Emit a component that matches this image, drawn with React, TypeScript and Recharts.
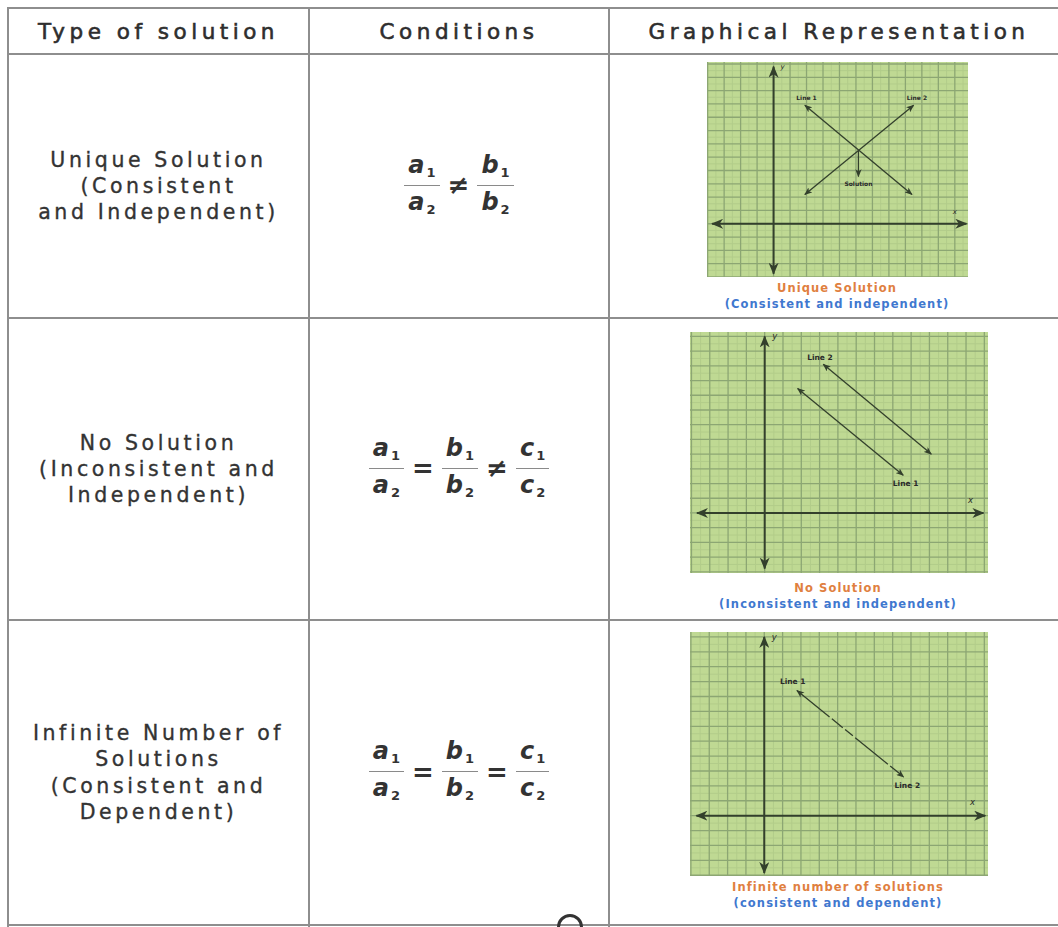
import React from 'react';
import { LineChart, Line, XAxis, YAxis, ReferenceLine, ReferenceDot } from 'recharts';

const FONT = '"DejaVu Sans", "Open Sans", sans-serif';
const BORDER = '#8e8e8e';
const GREEN = '#bfd993';
const MAJOR = '#8ca673';
const MINOR = '#b2cc8a';
const INK = '#33402c';

const HEADERS = ['Type of solution', 'Conditions', 'Graphical Representation'];

const ROW_TYPES = [
  ['Unique Solution', '(Consistent', 'and Independent)'],
  ['No Solution', '(Inconsistent and', 'Independent)'],
  ['Infinite Number of', 'Solutions', '(Consistent and', 'Dependent)'],
];

// letters of each ratio and the sign between them
const ROW_RATIOS = [['a', 'b'], ['a', 'b', 'c'], ['a', 'b', 'c']];
const ROW_SIGNS = [['≠'], ['=', '≠'], ['=', '=']];

const CAPTION_TOP = ['Unique Solution', 'No Solution', 'Infinite number of solutions'];
const CAPTION_BOTTOM = ['(Consistent and independent)', '(Inconsistent and independent)', '(consistent and dependent)'];

const GRID_MAJOR = [-4, -3, -2, -1, 0, 1, 2, 3, 4, 5, 6, 7, 8, 9, 10, 11, 12];
const GRID_MINOR = [-3.5, -2.5, -1.5, -0.5, 0.5, 1.5, 2.5, 3.5, 4.5, 5.5, 6.5, 7.5, 8.5, 9.5, 10.5, 11.5, 12.5];

// graph 1 - unique solution
const G1_Y_AXIS = [{ x: 0, y: -3.76 }, { x: 0, y: 11.8 }];
const G1_X_AXIS = [{ x: -3.73, y: 0 }, { x: 11.7, y: 0 }];
const G1_LINE1 = [{ x: 1.9, y: 8.9 }, { x: 8.4, y: 2.2 }];
const G1_LINE2 = [{ x: 1.9, y: 2.2 }, { x: 8.5, y: 8.9 }];
const G1_SOLUTION = [{ x: 5.15, y: 5.5 }, { x: 5.15, y: 3.55 }];
const G1_LABELS = [
  { x: 2.0, y: 9.45, text: 'Line 1' },
  { x: 8.7, y: 9.45, text: 'Line 2' },
  { x: 5.15, y: 3.0, text: 'Solution' },
];

// graph 2 - no solution
const G2_Y_AXIS = [{ x: 0, y: -3.78 }, { x: 0, y: 12.0 }];
const G2_X_AXIS = [{ x: -3.7, y: 0 }, { x: 11.95, y: 0 }];
const G2_LINE1 = [{ x: 1.8, y: 8.46 }, { x: 7.57, y: 2.56 }];
const G2_LINE2 = [{ x: 3.2, y: 10.1 }, { x: 9.1, y: 4.0 }];
const G2_LABELS = [
  { x: 3.02, y: 10.6, text: 'Line 2' },
  { x: 7.7, y: 2.0, text: 'Line 1' },
];

// graph 3 - infinite solutions
const G3_Y_AXIS = [{ x: 0, y: -3.85 }, { x: 0, y: 12.0 }];
const G3_X_AXIS = [{ x: -3.7, y: 0 }, { x: 12.05, y: 0 }];
const G3_LINE = [{ x: 1.78, y: 8.4 }, { x: 7.6, y: 2.6 }];
const G3_LABELS = [
  { x: 1.55, y: 9.0, text: 'Line 1' },
  { x: 7.8, y: 2.06, text: 'Line 2' },
];

type Pt = { x: number; y: number };
type Lbl = Pt & { text: string };

interface GraphProps {
  left: number;
  top: number;
  width: number;
  height: number;
  xDomain: [number, number];
  yDomain: [number, number];
  yAxis: Pt[];
  xAxis: Pt[];
  lines: { data: Pt[]; dash?: string; start?: boolean }[];
  labels: Lbl[];
  labelSize: number;
}

function Graph({ left, top, width, height, xDomain, yDomain, yAxis, xAxis, lines, labels, labelSize }: GraphProps) {
  return (
    <div style={{ position: 'absolute', left, top, width, height, background: GREEN }}>
      <LineChart width={width} height={height} margin={{ top: 0, right: 0, bottom: 0, left: 0 }}>
        <XAxis type="number" dataKey="x" domain={xDomain} hide allowDataOverflow />
        <YAxis type="number" dataKey="y" domain={yDomain} hide allowDataOverflow />
        {GRID_MINOR.map((v) => (
          <ReferenceLine key={'mx' + v} x={v} stroke={MINOR} strokeWidth={1} />
        ))}
        {GRID_MINOR.map((v) => (
          <ReferenceLine key={'my' + v} y={v} stroke={MINOR} strokeWidth={1} />
        ))}
        {GRID_MAJOR.map((v) => (
          <ReferenceLine key={'Mx' + v} x={v} stroke={MAJOR} strokeWidth={1.3} />
        ))}
        {GRID_MAJOR.map((v) => (
          <ReferenceLine key={'My' + v} y={v} stroke={MAJOR} strokeWidth={1.3} />
        ))}
        <Line data={yAxis} dataKey="y" stroke={INK} strokeWidth={2} dot={false} isAnimationActive={false}
          markerStart="url(#arrowAxis)" markerEnd="url(#arrowAxis)" />
        <Line data={xAxis} dataKey="y" stroke={INK} strokeWidth={2} dot={false} isAnimationActive={false}
          markerStart="url(#arrowAxis)" markerEnd="url(#arrowAxis)" />
        {lines.map((l, i) => (
          <Line key={i} data={l.data} dataKey="y" stroke={INK} strokeWidth={1.3} dot={false} isAnimationActive={false}
            strokeDasharray={l.dash} markerStart={l.start === false ? undefined : 'url(#arrowLine)'} markerEnd="url(#arrowLine)" />
        ))}
        {labels.map((l, i) => (
          <ReferenceDot key={i} x={l.x} y={l.y} r={0} stroke="none"
            label={{ value: l.text, position: 'center', fontSize: labelSize, fill: '#2a2a2a', fontFamily: FONT, fontWeight: 'bold' }} />
        ))}
        <ReferenceDot x={yAxis[1].x + 0.55} y={yAxis[1].y} r={0} stroke="none"
          label={{ value: 'y', position: 'center', fontSize: labelSize + 1, fill: '#2a2a2a', fontFamily: FONT, fontStyle: 'italic' }} />
        <ReferenceDot x={xAxis[1].x - 0.7} y={0.9} r={0} stroke="none"
          label={{ value: 'x', position: 'center', fontSize: labelSize + 1, fill: '#2a2a2a', fontFamily: FONT, fontStyle: 'italic' }} />
      </LineChart>
    </div>
  );
}

function Ratio({ letter }: { letter: string }) {
  const term = (n: number) => (
    <span>
      <span style={{ fontStyle: 'italic', fontWeight: 'bold' }}>{letter}</span>
      <span style={{ fontSize: 13, fontWeight: 'bold', position: 'relative', top: 4, marginLeft: 2 }}>{n}</span>
    </span>
  );
  return (
    <span style={{ display: 'inline-flex', flexDirection: 'column', alignItems: 'center', margin: '0 6px' }}>
      <span style={{ padding: '0 4px 3px', lineHeight: '26px' }}>{term(1)}</span>
      <span style={{ alignSelf: 'stretch', borderTop: '1.5px solid #8a8a8a' }} />
      <span style={{ padding: '3px 4px 0', lineHeight: '26px' }}>{term(2)}</span>
    </span>
  );
}

const ROW_BOUNDS = [54, 318, 620, 925];
const COLS = [8, 309, 609, 1058];

export default function App() {
  const captions = [
    { top: 281, center: 837 },
    { top: 581, center: 838 },
    { top: 880, center: 838 },
  ];
  return (
    <div style={{ position: 'fixed', left: 0, top: 0, width: 1058, height: 927, overflow: 'hidden', background: '#fff', fontFamily: FONT, color: '#2e2e2e' }}>
      <svg width={0} height={0} style={{ position: 'absolute' }}>
        <defs>
          <marker id="arrowAxis" viewBox="0 0 12 10" refX={11} refY={5} markerWidth={12} markerHeight={10}
            markerUnits="userSpaceOnUse" orient="auto-start-reverse">
            <path d="M0,0 L12,5 L0,10 L3.5,5 z" fill={INK} />
          </marker>
          <marker id="arrowLine" viewBox="0 0 10 8" refX={9} refY={4} markerWidth={8} markerHeight={6.5}
            markerUnits="userSpaceOnUse" orient="auto-start-reverse">
            <path d="M0,0 L10,4 L0,8 L2.5,4 z" fill={INK} />
          </marker>
        </defs>
      </svg>

      {/* table rules */}
      {[8, ...ROW_BOUNDS].map((y) => (
        <div key={'h' + y} style={{ position: 'absolute', left: 7, top: y - 1, width: 1060, height: 2, background: BORDER }} />
      ))}
      {COLS.slice(0, 3).map((x) => (
        <div key={'v' + x} style={{ position: 'absolute', left: x - 1, top: 7, width: 2, height: 920, background: BORDER }} />
      ))}

      {/* header */}
      {HEADERS.map((h, i) => (
        <div key={h} style={{ position: 'absolute', left: COLS[i], width: i === 2 ? 460 : COLS[i + 1] - COLS[i], top: 9, height: 45,
          display: 'flex', alignItems: 'center', justifyContent: 'center', fontSize: 21.5, letterSpacing: 4.5,
          WebkitTextStroke: '0.6px #2e2e2e', color: '#2e2e2e' }}>
          {h}
        </div>
      ))}

      {/* rows */}
      {ROW_TYPES.map((lines, r) => (
        <div key={'t' + r} style={{ position: 'absolute', left: COLS[0], width: COLS[1] - COLS[0], top: ROW_BOUNDS[r], height: ROW_BOUNDS[r + 1] - ROW_BOUNDS[r],
          display: 'flex', flexDirection: 'column', alignItems: 'center', justifyContent: 'center', fontSize: 20.5, letterSpacing: 3.6,
          lineHeight: '26.3px', WebkitTextStroke: '0.35px #333', color: '#333' }}>
          {lines.map((t) => <div key={t}>{t}</div>)}
        </div>
      ))}

      {ROW_RATIOS.map((letters, r) => (
        <div key={'c' + r} style={{ position: 'absolute', left: COLS[1], width: COLS[2] - COLS[1], top: ROW_BOUNDS[r], height: ROW_BOUNDS[r + 1] - ROW_BOUNDS[r] - 2,
          display: 'flex', alignItems: 'center', justifyContent: 'center', fontSize: 24, color: '#333' }}>
          {letters.map((l, i) => (
            <React.Fragment key={l}>
              {i > 0 && <span style={{ fontSize: 26, fontWeight: 'bold', margin: '0 2px' }}>{ROW_SIGNS[r][i - 1]}</span>}
              <Ratio letter={l} />
            </React.Fragment>
          ))}
        </div>
      ))}

      <Graph left={707} top={62} width={261} height={215} xDomain={[-4.04, 11.8]} yDomain={[-4.0, 12.15]}
        yAxis={G1_Y_AXIS} xAxis={G1_X_AXIS} labelSize={6}
        lines={[{ data: G1_LINE1 }, { data: G1_LINE2 }, { data: G1_SOLUTION, start: false }]} labels={G1_LABELS} />
      <Graph left={690} top={332} width={298} height={241} xDomain={[-4.08, 12.2]} yDomain={[-4.08, 12.3]}
        yAxis={G2_Y_AXIS} xAxis={G2_X_AXIS} labelSize={7.5}
        lines={[{ data: G2_LINE1 }, { data: G2_LINE2 }]} labels={G2_LABELS} />
      <Graph left={690} top={632} width={298} height={244} xDomain={[-4.05, 12.2]} yDomain={[-4.05, 12.33]}
        yAxis={G3_Y_AXIS} xAxis={G3_X_AXIS} labelSize={7.5}
        lines={[{ data: G3_LINE, dash: '42 3 14 3 10 3' }]} labels={G3_LABELS} />

      {captions.map((c, i) => (
        <div key={'cap' + i} style={{ position: 'absolute', left: c.center - 150, width: 300, top: c.top, textAlign: 'center',
          fontSize: 11.5, fontWeight: 'bold', letterSpacing: 1.1, lineHeight: '15.5px' }}>
          <div style={{ color: '#e0803f' }}>{CAPTION_TOP[i]}</div>
          <div style={{ color: '#3f78cf' }}>{CAPTION_BOTTOM[i]}</div>
        </div>
      ))}

      <div style={{ position: 'absolute', left: 557, top: 914, width: 20, height: 20, borderRadius: '50%', border: '3px solid #333' }} />
    </div>
  );
}
